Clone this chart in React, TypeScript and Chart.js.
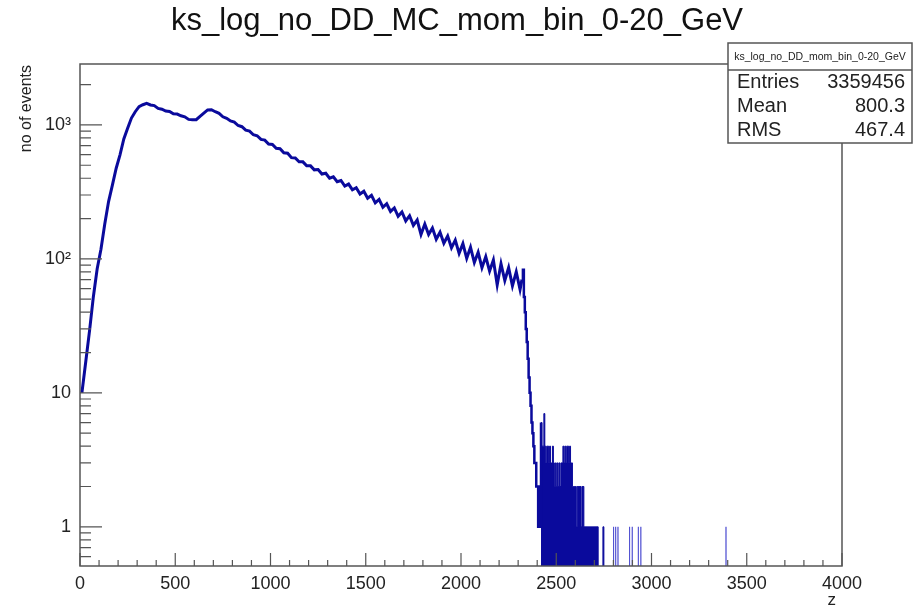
import React, { useEffect, useRef } from "react";
import { Chart, registerables } from "chart.js";

Chart.register(...registerables);

// ---- data ----
const titleText = "ks_log_no_DD_MC_mom_bin_0-20_GeV";
const statsTitle = "ks_log_no_DD_mom_bin_0-20_GeV";
const statsLabels = ["Entries", "Mean", "RMS"];
const statsValues = ["3359456", "800.3", "467.4"];
const yAxisTitle = "no of events";
const xAxisTitle = "z";

const xTickValues = [0, 500, 1000, 1500, 2000, 2500, 3000, 3500, 4000];
const xTickLabels = ["0", "500", "1000", "1500", "2000", "2500", "3000", "3500", "4000"];
const yTickValues = [1, 10, 100, 1000];
const yTickLabels = ["1", "10", "10\u00B2", "10\u00B3"];

// main part: bins of width 20 from 0 to 2320 (drawn through bin centres)
const mainStart = 0;
const mainBinWidth = 20;
const mainCounts = [
  10, 17, 29, 52, 84, 118, 182, 268, 355, 475,
  598, 785, 945, 1125, 1255, 1370, 1415, 1450, 1410, 1395,
  1330, 1310, 1270, 1260, 1210, 1205, 1170, 1150, 1100, 1095,
  1095, 1160, 1225, 1295, 1300, 1255, 1220, 1150, 1120, 1070,
  1050, 990, 970, 915, 900, 845, 830, 780, 770, 720,
  715, 670, 665, 620, 615, 570, 566, 530, 530, 495,
  495, 462, 465, 430, 436, 400, 410, 377, 385, 350,
  362, 328, 340, 305, 320, 284, 298, 262, 278, 243,
  258, 226, 240, 208, 224, 192, 210, 178, 195, 152,
  182, 152, 170, 140, 158, 131, 148, 121, 138, 110,
  130, 101, 122, 94, 112, 86, 104, 81, 98, 64,
  92, 69, 86, 63, 80, 59,
];

// steep drop: bins of width 5 from 2320 to 2420
const dropStart = 2320;
const dropBinWidth = 5;
const dropCounts = [70, 83, 52, 40, 30, 24, 18, 13, 10, 8, 6, 5, 4, 3, 3, 2, 2, 1, 2, 1];

// densely populated low tail: bins of width 5 from 2420 to 2760
const lowStart = 2420;
const lowBinWidth = 5;
const lowCounts = [
  6, 4, 4, 7, 4, 3, 4, 4, 3, 4,
  3, 3, 4, 3, 2, 3, 2, 3, 2, 3,
  2, 3, 3, 4, 3, 4, 3, 4, 4, 3,
  4, 3, 3, 2, 2, 2, 2, 1, 2, 2,
  2, 2, 1, 2, 2, 1, 1, 1, 1, 1,
  1, 1, 1, 1, 1, 1, 1, 1, 1, 1,
  0, 0, 0, 0, 0, 1, 0, 0,
];

// isolated single entries further out
const sparseEntries = [2800, 2812, 2824, 2884, 2898, 2930, 2944, 3391];
const sparseBinWidth = 2;

const yMin = 0.51;
const yMax = 2850;
const FLOOR = 0.01; // empty bins are drawn below the axis

const lineColor = "#0a0a9c";
const frameColor = "#555";
const textColor = "#222";
const fontFamily = "'Liberation Sans', Arial, Helvetica, sans-serif";

function edgePoints(start: number, width: number, counts: number[]) {
  return counts.map((c, i) => ({ x: start + i * width, y: c > 0 ? c : FLOOR }));
}

const mainPoints = [
  ...mainCounts.map((c, i) => ({ x: mainStart + (i + 0.5) * mainBinWidth, y: c })),
  { x: dropStart, y: dropCounts[0] },
];
const dropPoints = [
  ...edgePoints(dropStart, dropBinWidth, dropCounts),
  { x: lowStart, y: lowCounts[0] },
];
const lowPoints = [
  ...edgePoints(lowStart, lowBinWidth, lowCounts),
  { x: lowStart + lowCounts.length * lowBinWidth, y: FLOOR },
];
const sparsePoints: { x: number; y: number }[] = [];
sparseEntries.forEach((s) => {
  sparsePoints.push({ x: s, y: FLOOR });
  sparsePoints.push({ x: s, y: 1 });
  sparsePoints.push({ x: s + sparseBinWidth, y: FLOOR });
});

const rootPlugin = {
  id: "rootStyle",
  beforeDraw(chart: any) {
    const ctx = chart.ctx;
    ctx.save();
    ctx.fillStyle = "#fff";
    ctx.fillRect(0, 0, chart.width, chart.height);
    ctx.restore();
  },
  afterDatasetsDraw(chart: any) {
    const { ctx, chartArea } = chart;
    const { left, right, top, bottom } = chartArea;
    const xs = chart.scales.x;
    const ys = chart.scales.y;
    ctx.save();
    ctx.strokeStyle = frameColor;
    ctx.lineWidth = 1.5;
    ctx.strokeRect(left, top, right - left, bottom - top);
    ctx.lineWidth = 1.2;
    ctx.beginPath();
    for (let v = 0; v <= 4000; v += 100) {
      const px = xs.getPixelForValue(v);
      const len = v % 500 === 0 ? 13 : 6;
      ctx.moveTo(px, bottom);
      ctx.lineTo(px, bottom - len);
    }
    for (let n = -1; n <= 3; n++) {
      for (let k = 1; k <= 9; k++) {
        const v = k * Math.pow(10, n);
        if (v < yMin || v > yMax) continue;
        const py = ys.getPixelForValue(v);
        const len = k === 1 ? 22 : 11;
        ctx.moveTo(left, py);
        ctx.lineTo(left + len, py);
      }
    }
    ctx.stroke();
    ctx.restore();
  },
  afterDraw(chart: any) {
    const { ctx, chartArea } = chart;
    ctx.save();
    ctx.fillStyle = "#111";
    ctx.font = `31px ${fontFamily}`;
    ctx.textAlign = "center";
    ctx.textBaseline = "alphabetic";
    ctx.fillText(titleText, 457, 30);

    ctx.save();
    ctx.translate(27, chartArea.top + 1);
    ctx.rotate(-Math.PI / 2);
    ctx.font = `16px ${fontFamily}`;
    ctx.fillStyle = textColor;
    ctx.textAlign = "right";
    ctx.textBaseline = "middle";
    ctx.fillText(yAxisTitle, 0, 0);
    ctx.restore();

    ctx.font = `17px ${fontFamily}`;
    ctx.fillStyle = textColor;
    ctx.textAlign = "right";
    ctx.textBaseline = "middle";
    ctx.fillText(xAxisTitle, chartArea.right - 6, 600);

    const bx = 728, by = 43, bw = 184, bh = 100;
    ctx.fillStyle = "#fff";
    ctx.fillRect(bx, by, bw, bh);
    ctx.strokeStyle = frameColor;
    ctx.lineWidth = 1.5;
    ctx.strokeRect(bx, by, bw, bh);
    ctx.beginPath();
    ctx.moveTo(bx, 70);
    ctx.lineTo(bx + bw, 70);
    ctx.stroke();
    ctx.fillStyle = textColor;
    ctx.font = `10.5px ${fontFamily}`;
    ctx.textAlign = "center";
    ctx.textBaseline = "middle";
    ctx.fillText(statsTitle, bx + bw / 2, 57);
    ctx.font = `20px ${fontFamily}`;
    const rowY = [82, 106, 130];
    statsLabels.forEach((lab, i) => {
      ctx.textAlign = "left";
      ctx.fillText(lab, 737, rowY[i]);
      ctx.textAlign = "right";
      ctx.fillText(statsValues[i], 905, rowY[i]);
    });
    ctx.restore();
  },
};

export default function App() {
  const ref = useRef<HTMLCanvasElement>(null);
  useEffect(() => {
    if (!ref.current) return;
    const chart = new Chart(ref.current, {
      type: "line",
      data: {
        datasets: [
          {
            data: mainPoints,
            borderColor: lineColor,
            borderWidth: 3,
            pointRadius: 0,
            stepped: false,
            fill: false,
            tension: 0,
          },
          {
            data: dropPoints,
            borderColor: lineColor,
            borderWidth: 2.5,
            pointRadius: 0,
            stepped: true,
            fill: false,
            tension: 0,
          },
          {
            data: lowPoints,
            borderColor: lineColor,
            backgroundColor: lineColor,
            borderWidth: 1,
            pointRadius: 0,
            stepped: true,
            fill: "start",
            tension: 0,
          },
          {
            data: sparsePoints,
            borderColor: "rgba(40,40,200,0.6)",
            borderWidth: 1,
            pointRadius: 0,
            stepped: false,
            fill: false,
            tension: 0,
          },
        ],
      },
      options: {
        animation: false,
        responsive: false,
        devicePixelRatio: 1,
        events: [],
        layout: { padding: { left: 0, top: 64, right: 78, bottom: 0 } },
        plugins: {
          legend: { display: false },
          title: { display: false },
          tooltip: { enabled: false },
        },
        scales: {
          x: {
            type: "linear",
            min: 0,
            max: 4000,
            grid: { display: false, drawTicks: false },
            border: { display: false },
            afterBuildTicks: (scale: any) => {
              scale.ticks = xTickValues.map((value) => ({ value }));
            },
            afterFit: (scale: any) => {
              scale.height = 43;
            },
            ticks: {
              autoSkip: false,
              maxRotation: 0,
              padding: 7,
              color: textColor,
              font: { family: fontFamily, size: 18 },
              callback: (value: any) => {
                const i = xTickValues.indexOf(Number(value));
                return i >= 0 ? xTickLabels[i] : "";
              },
            },
          },
          y: {
            type: "logarithmic",
            min: yMin,
            max: yMax,
            grid: { display: false, drawTicks: false },
            border: { display: false },
            afterBuildTicks: (scale: any) => {
              scale.ticks = yTickValues.map((value) => ({ value }));
            },
            afterFit: (scale: any) => {
              scale.width = 80;
            },
            ticks: {
              autoSkip: false,
              padding: 9,
              color: textColor,
              font: { family: fontFamily, size: 18 },
              callback: (value: any) => {
                const i = yTickValues.indexOf(Number(value));
                return i >= 0 ? yTickLabels[i] : "";
              },
            },
          },
        },
      },
      plugins: [rootPlugin],
    } as any);
    return () => chart.destroy();
  }, []);
  return (
    <div style={{ position: "absolute", left: 0, top: 0, width: 920, height: 609, background: "#fff" }}>
      <canvas ref={ref} width={920} height={609} style={{ display: "block", width: 920, height: 609 }} />
    </div>
  );
}
